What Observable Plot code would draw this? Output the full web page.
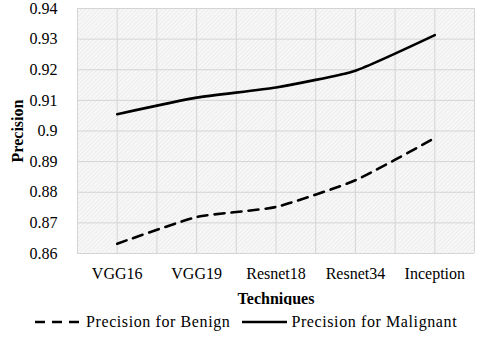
<!DOCTYPE html>
<html><head><meta charset="utf-8">
<script src="https://cdn.jsdelivr.net/npm/d3@7"></script>
<script src="https://cdn.jsdelivr.net/npm/@observablehq/plot@0.6"></script>
<style>
body{margin:0;background:#fff;font-family:"Liberation Serif",Tinos,"Times New Roman",Times,"DejaVu Serif",serif;width:480px;height:338px;overflow:hidden}
#chart svg{display:block;font-family:"Liberation Serif",Tinos,"Times New Roman",Times,"DejaVu Serif",serif !important}
#chart svg text{font-family:"Liberation Serif",Tinos,"Times New Roman",Times,"DejaVu Serif",serif}
g[aria-label="x-axis label"] text, g[aria-label="y-axis label"] text{font-weight:bold}
#legend{display:flex;align-items:center;height:33px;padding-left:35px;font-size:16px;color:#000;letter-spacing:0.6px}
#legend .item{display:flex;align-items:center}
#legend svg{display:block}
</style>
</head><body><div id="chart"></div><div id="legend"></div>
<script>
const techniques = ["VGG16", "VGG19", "Resnet18", "Resnet34", "Inception"];
const benign = [0.8632, 0.8719, 0.8752, 0.8839, 0.8977];
const malignant = [0.9055, 0.9109, 0.9142, 0.9197, 0.9313];
const yTicks = [0.86, 0.87, 0.88, 0.89, 0.9, 0.91, 0.92, 0.93, 0.94];
const seriesNames = ["Precision for Benign", "Precision for Malignant"];

const FONT = '"Liberation Serif",Tinos,"Times New Roman",Times,"DejaVu Serif",serif';
const idx = techniques.map((_, i) => i);
const benignData = idx.map(i => ({i, technique: techniques[i], value: benign[i], series: seriesNames[0]}));
const malignantData = idx.map(i => ({i, technique: techniques[i], value: malignant[i], series: seriesNames[1]}));
const xGrid = idx.flatMap(i => [i - 0.5, i]).concat([idx.length - 0.5]);

const plot = Plot.plot({
  width: 480,
  height: 305,
  marginLeft: 77,
  marginRight: 6,
  marginTop: 8,
  marginBottom: 52,
  style: {fontFamily: FONT, fontSize: "16px", color: "#000", background: "#fff"},
  x: {type: "linear", domain: [-0.5, idx.length - 0.5], axis: null},
  y: {domain: [0.86, 0.94], axis: null},
  marks: [
    Plot.frame({fill: "url(#hatch)", stroke: null}),
    Plot.gridY(yTicks, {stroke: "#d4d4d4", strokeOpacity: 1, strokeWidth: 1}),
    Plot.gridX(xGrid, {stroke: "#d4d4d4", strokeOpacity: 1, strokeWidth: 1}),
    Plot.axisY(yTicks, {tickSize: 0, tickPadding: 20, fontSize: 16, tickFormat: d => String(d),
      label: "Precision", labelAnchor: "center", labelArrow: "none", labelOffset: 66}),
    Plot.axisX(idx, {tickSize: 0, tickPadding: 14, fontSize: 16, tickFormat: i => techniques[i],
      label: "Techniques", labelAnchor: "center", labelArrow: "none", labelOffset: 50}),
    Plot.line(benignData, {x: "i", y: "value", stroke: "#000", strokeWidth: 2.6, strokeDasharray: "10,7", curve: "cardinal", tension: 0.5}),
    Plot.line(malignantData, {x: "i", y: "value", stroke: "#000", strokeWidth: 2.6, curve: "cardinal", tension: 0.5})
  ]
});

const ns = "http://www.w3.org/2000/svg";
const defs = document.createElementNS(ns, "defs");
defs.innerHTML = '<pattern id="hatch" patternUnits="userSpaceOnUse" width="3" height="3" patternTransform="rotate(45)">' +
  '<rect width="3" height="3" fill="#f7f7f7"/><line x1="0" y1="0" x2="0" y2="3" stroke="#e4e4e4" stroke-width="1"/></pattern>';
plot.insertBefore(defs, plot.firstChild);
document.getElementById("chart").appendChild(plot);

const legend = document.getElementById("legend");
const dashes = ["10,7", null];
const swW = [47, 45];
seriesNames.forEach((name, k) => {
  const item = document.createElement("div");
  item.className = "item";
  item.style.marginRight = k === 0 ? "12px" : "0";
  const sw = document.createElementNS(ns, "svg");
  sw.setAttribute("width", swW[k]);
  sw.setAttribute("height", 10);
  sw.style.marginRight = "4px";
  const ln = document.createElementNS(ns, "line");
  ln.setAttribute("x1", 0); ln.setAttribute("x2", swW[k]);
  ln.setAttribute("y1", 5); ln.setAttribute("y2", 5);
  ln.setAttribute("stroke", "#000"); ln.setAttribute("stroke-width", 2.6);
  if (dashes[k]) ln.setAttribute("stroke-dasharray", dashes[k]);
  sw.appendChild(ln);
  const t = document.createElement("span");
  t.textContent = name;
  item.appendChild(sw); item.appendChild(t);
  legend.appendChild(item);
});
</script>
</body></html>
